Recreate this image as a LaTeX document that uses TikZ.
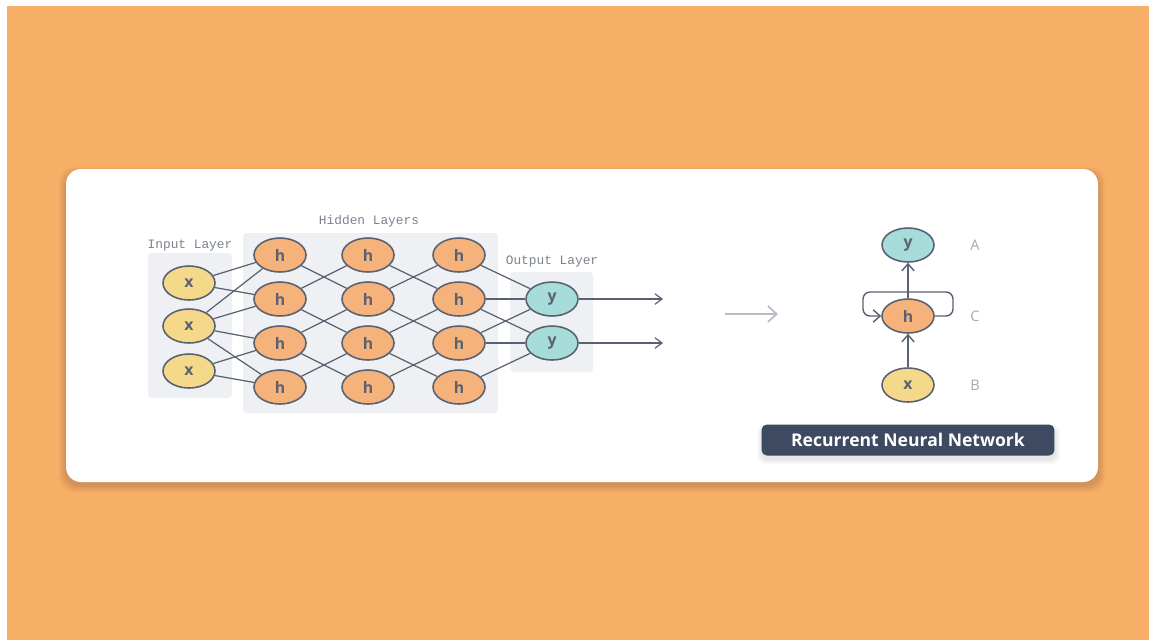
\documentclass[tikz,border=0pt]{standalone}
\usepackage{fontspec}
\setmainfont{Open Sans}
\setmonofont{Liberation Mono}
\usetikzlibrary{arrows.meta,shapes.geometric}

\definecolor{bgorange}{HTML}{F7AE67}
\definecolor{panelgray}{HTML}{EEF0F3}
\definecolor{xfill}{HTML}{F5D98B}
\definecolor{hfill}{HTML}{F5B27A}
\definecolor{yfill}{HTML}{A6DCDA}
\definecolor{linegray}{HTML}{5A6272}
\definecolor{labelgray}{HTML}{7B8290}
\definecolor{lettergray}{HTML}{A7ABB2}
\definecolor{btnslate}{HTML}{3E4A61}
\definecolor{softarrow}{HTML}{B8BCC4}

\tikzset{
  unit/.style={ellipse,draw=linegray,line width=0.9pt,minimum width=1.04cm,
               minimum height=0.68cm,inner sep=0pt,text=linegray,
               font=\fontsize{9}{9}\selectfont\bfseries},
  xunit/.style={unit,fill=xfill},
  hunit/.style={unit,fill=hfill},
  yunit/.style={unit,fill=yfill},
  layertag/.style={font=\ttfamily\fontsize{7.3}{7.5}\selectfont,text=labelgray},
  panel/.style={fill=panelgray,draw=none,rounded corners=2pt},
  sidetag/.style={text=lettergray,font=\fontsize{8.3}{8.3}\selectfont},
  haze/.style={fill=black,opacity=0.018},
}

\begin{document}
\begin{tikzpicture}[x=0.02cm,y=-0.02cm]
\useasboundingbox (0,0) rectangle (1149,640);
\fill[white] (0,0) rectangle (1149,640);
\fill[bgorange] (7,6) rectangle (1149,640);
% soft shadow of the card
\foreach \s in {1,...,7}
    \fill[haze,rounded corners=0.3cm] (66-\s,169-\s+5) rectangle (1098+\s,482+\s+3);
\fill[white,rounded corners=0.3cm] (66,169) rectangle (1098,482);

% panels behind the layers
\fill[panel] (148,253) rectangle (232,398);
\fill[panel] (243,233) rectangle (498,413);
\fill[panel] (510,272) rectangle (593,372);

\node[layertag] (tagin)  at (190,246) {Input Layer};
\node[layertag] (taghid) at (369,221) {Hidden Layers};
\node[layertag] (tagout) at (552,262) {Output Layer};

% feed-forward network
\begin{scope}[every node/.style={unit}]
    \node[xunit] (x1) at (189,283) {x};
    \node[xunit] (x2) at (189,326) {x};
    \node[xunit] (x3) at (189,371) {x};
    \node[hunit] (a1) at (280,255) {h};
    \node[hunit] (a2) at (280,299) {h};
    \node[hunit] (a3) at (280,343) {h};
    \node[hunit] (a4) at (280,387) {h};
    \node[hunit] (b1) at (368,255) {h};
    \node[hunit] (b2) at (368,299) {h};
    \node[hunit] (b3) at (368,343) {h};
    \node[hunit] (b4) at (368,387) {h};
    \node[hunit] (c1) at (459,255) {h};
    \node[hunit] (c2) at (459,299) {h};
    \node[hunit] (c3) at (459,343) {h};
    \node[hunit] (c4) at (459,387) {h};
    \node[yunit] (y1) at (552,299) {y};
    \node[yunit] (y2) at (552,343) {y};
\end{scope}
\coordinate (o1) at (663,299);
\coordinate (o2) at (663,343);

\begin{scope}[every edge/.style={draw=linegray,line width=0.7pt}]
    \path (x1) edge (a1);
    \path (x1) edge (a2);
    \path (x2) edge (a1);
    \path (x2) edge (a2);
    \path (x2) edge (a3);
    \path (x2) edge (a4);
    \path (x3) edge (a3);
    \path (x3) edge (a4);
    \path (a1) edge (b2);
    \path (a2) edge (b1);
    \path (a2) edge (b3);
    \path (a3) edge (b2);
    \path (a3) edge (b4);
    \path (a4) edge (b3);
    \path (b1) edge (c2);
    \path (b2) edge (c1);
    \path (b2) edge (c3);
    \path (b3) edge (c2);
    \path (b3) edge (c4);
    \path (b4) edge (c3);
    \path (c1) edge (y1);
    \path (c2) edge (y1);
    \path (c2) edge (y2);
    \path (c3) edge (y1);
    \path (c3) edge (y2);
    \path (c4) edge (y2);
    \path (y1) edge[-{Straight Barb[length=4pt,width=6pt]}] (o1);
    \path (y2) edge[-{Straight Barb[length=4pt,width=6pt]}] (o2);
\end{scope}

% light arrow between the two views
\coordinate (ga) at (725,314);
\coordinate (gb) at (778,314);
\draw[softarrow,line width=1pt,-{Straight Barb[length=5pt,width=9pt]}] (ga) -- (gb);

% recurrent view
\node[yunit] (ry) at (908,245) {y};
\node[hunit] (rh) at (908,316) {h};
\node[xunit] (rx) at (908,385) {x};
\node[sidetag] (la) at (975,245) {A};
\node[sidetag] (lc) at (975,316) {C};
\node[sidetag] (lb) at (975,385) {B};
\coordinate (loopr) at (953,292);
\coordinate (loopl) at (863,292);
\begin{scope}[draw=linegray,line width=0.8pt]
    \draw[-{Straight Barb[length=4pt,width=7pt]}] (rx) -- (rh);
    \draw[-{Straight Barb[length=4pt,width=7pt]}] (rh) -- (ry);
    \draw[rounded corners=4pt,-{Straight Barb[length=4pt,width=7pt]}]
        (rh.east) -| (loopr) -- (loopl) |- (rh.west);
\end{scope}

% soft shadow of the label
\foreach \s in {1,...,5}
    \fill[haze,rounded corners=4pt] (762-\s,426-\s+4) rectangle (1055+\s,456+\s+3);
\node[fill=btnslate,text=white,rounded corners=3pt,minimum width=5.86cm,
      minimum height=0.62cm,font=\fontsize{10}{10}\selectfont\bfseries]
    (rnn) at (908,440) {Recurrent Neural Network};
\end{tikzpicture}
\end{document}
